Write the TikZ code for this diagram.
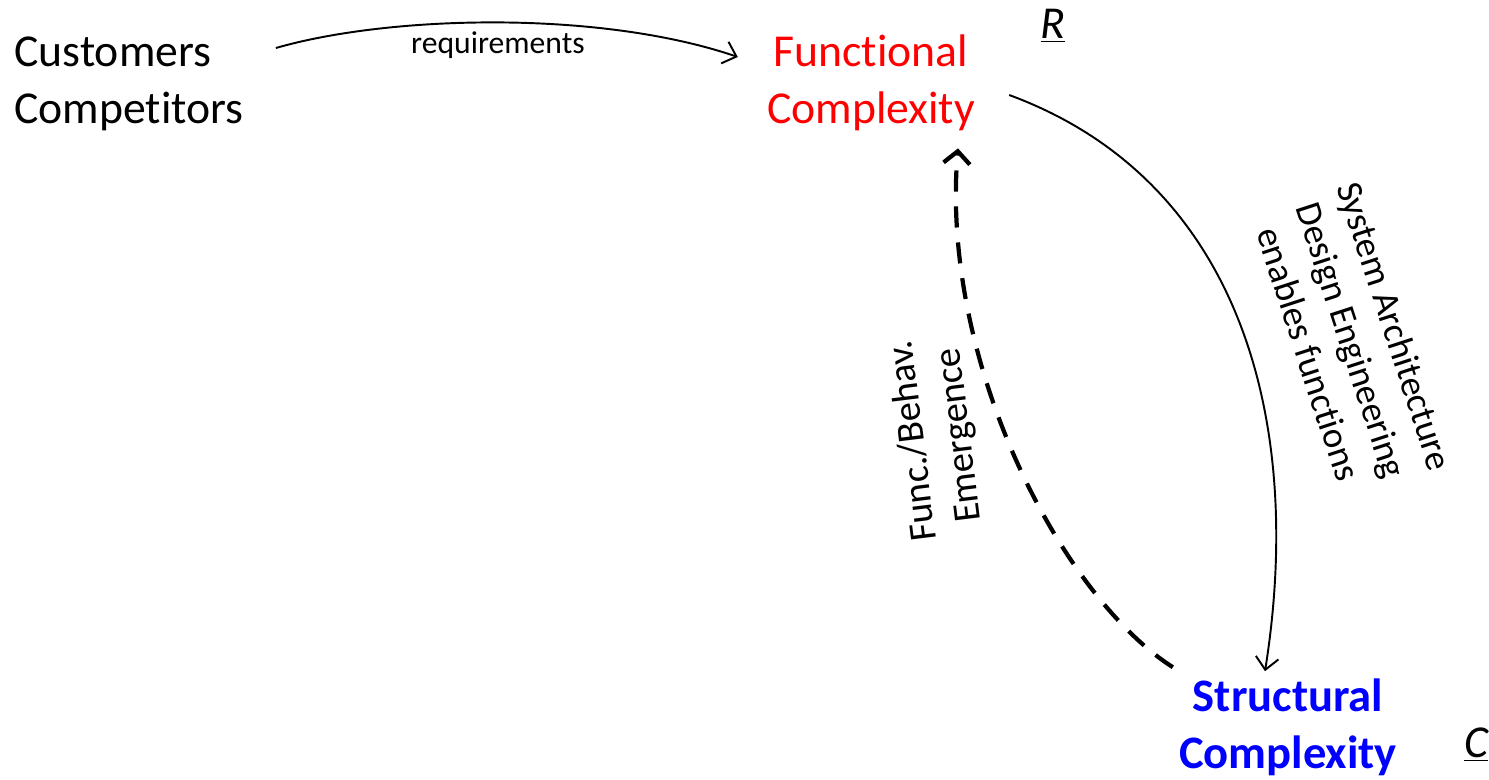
\documentclass[tikz,border=0pt]{standalone}
\usepackage{fontspec}
\setmainfont[Ligatures=NoCommon]{Carlito}
\usetikzlibrary{arrows.meta}

\begin{document}
\begin{tikzpicture}[x=0.02cm,y=-0.02cm]
\tikzstyle{source}=[inner sep=0pt,align=left,font=\fontsize{26}{32.4}\selectfont]
\tikzstyle{funcx}=[inner sep=0pt,align=center,text=red,font=\fontsize{26}{32.4}\selectfont]
\tikzstyle{structx}=[inner sep=0pt,align=center,text=blue,font=\bfseries\fontsize{26.5}{32.4}\selectfont]
\tikzstyle{letter}=[inner sep=0pt,font=\itshape\fontsize{26}{32.4}\selectfont]
\tikzstyle{flow}=[line width=1.1pt,-{Straight Barb[length=7pt,width=13pt]}]
\tikzstyle{emerge}=[line width=2.4pt,dash pattern=on 12pt off 8.5pt,-{Straight Barb[length=7pt,width=15pt]}]
\useasboundingbox (0,0) rectangle (1489,779);
\node [source,anchor=west] (cust) at (14,84) {Customers\\Competitors};
\node [funcx] (func) at (871,83) {Functional\\Complexity};
\node [structx] (struct) at (1288,727) {Structural\\Complexity};
\node [letter] (r) at (1053,26) {\underline{R}};
\node [letter] (c) at (1476,745) {\underline{C}};
\draw [flow] ([shift={(32,-36)}]cust.east) .. controls (390,15) and (600,10) .. ([shift={(-29,-26)}]func.west)
  node [midway,yshift=-0.46cm,font=\fontsize{18}{22}\selectfont] (req) {requirements};
\draw [flow] ([shift={(34,12)}]func.east) .. controls (1240,180) and (1305,420) .. ([shift={(-23,-7)}]struct.north);
\draw [emerge] ([shift={(-6,-11)}]struct.north west) .. controls (1060,595) and (940,360) .. ([shift={(87,17)}]func.south);
\node [rotate=-72,align=center,font=\fontsize{21}{25.8}\selectfont] (design) at (1352,340) {System Architecture\\Design Engineering\\enables functions};
\node [rotate=97,align=center,font=\fontsize{22}{26.6}\selectfont] (emergence) at (937,438) {Func./Behav.\\Emergence};
\end{tikzpicture}
\end{document}
